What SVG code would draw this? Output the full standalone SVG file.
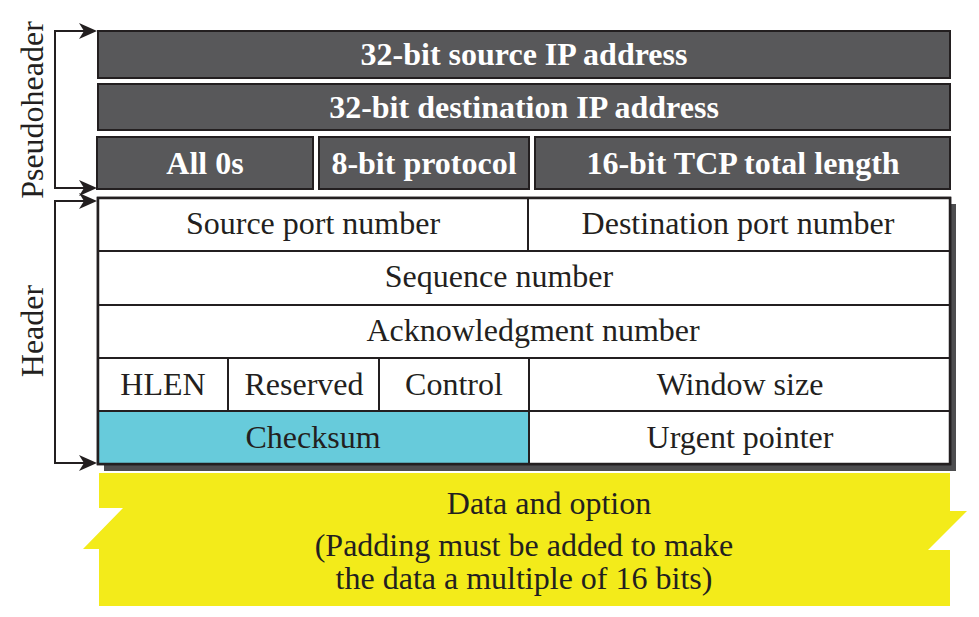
<svg xmlns="http://www.w3.org/2000/svg" width="979" height="617" viewBox="0 0 979 617">
<defs>
<style>
.dk{fill:#58585a;stroke:#231f20;stroke-width:2}
.wt{fill:#ffffff;stroke:#231f20;stroke-width:2}
.cy{fill:#67cbdb;stroke:#231f20;stroke-width:2}
.tb{font-weight:bold;font-size:32px;fill:#ffffff;text-anchor:middle}
.tn{font-size:32px;fill:#231f20;text-anchor:middle}
.ln{fill:none;stroke:#231f20;stroke-width:2}
</style>
<path id="ah" d="M0,0 L-18,-8 L-13,0 L-18,8 Z" fill="#231f20"/>
</defs>
<rect width="979" height="617" fill="#ffffff"/>
<g font-family="Liberation Serif, Times New Roman, serif">
<g id="pseudoheader">
<g id="src-ip"><rect class="dk" x="98" y="31" width="852" height="47"/><text class="tb" x="524" y="65">32-bit source IP address</text></g>
<g id="dst-ip"><rect class="dk" x="98" y="84" width="852" height="46"/><text class="tb" x="524" y="118">32-bit destination IP address</text></g>
<g id="all0"><rect class="dk" x="97" y="137" width="216" height="52"/><text class="tb" x="205" y="174">All 0s</text></g>
<g id="proto"><rect class="dk" x="319" y="137" width="210" height="52"/><text class="tb" x="424" y="174">8-bit protocol</text></g>
<g id="tcplen"><rect class="dk" x="535" y="137" width="415" height="52"/><text class="tb" x="743" y="174">16-bit TCP total length</text></g>
</g>

<g id="header">
<rect x="104" y="204" width="852" height="267" fill="#4d4d4f"/>
<rect x="98" y="198" width="852" height="266" fill="#ffffff" stroke="#231f20" stroke-width="2.5"/>
<g id="srcport"><rect class="wt" x="98" y="198" width="430" height="53"/><text class="tn" x="313" y="234">Source port number</text></g>
<g id="dstport"><rect class="wt" x="528" y="198" width="422" height="53"/><text class="tn" x="738" y="234">Destination port number</text></g>
<g id="seq"><rect class="wt" x="98" y="251" width="852" height="54"/><text class="tn" x="499" y="287">Sequence number</text></g>
<g id="ack"><rect class="wt" x="98" y="305" width="852" height="53"/><text class="tn" x="533" y="341">Acknowledgment number</text></g>
<g id="hlen"><rect class="wt" x="98" y="358" width="130" height="53"/><text class="tn" x="163" y="395">HLEN</text></g>
<g id="reserved"><rect class="wt" x="228" y="358" width="151" height="53"/><text class="tn" x="304" y="395">Reserved</text></g>
<g id="control"><rect class="wt" x="379" y="358" width="150" height="53"/><text class="tn" x="454" y="395">Control</text></g>
<g id="window"><rect class="wt" x="529" y="358" width="421" height="53"/><text class="tn" x="740" y="395">Window size</text></g>
<g id="checksum"><rect class="cy" x="98" y="411" width="431" height="53"/><text class="tn" x="313" y="448">Checksum</text></g>
<g id="urgent"><rect class="wt" x="529" y="411" width="421" height="53"/><text class="tn" x="740" y="448">Urgent pointer</text></g>
<rect x="98" y="198" width="852" height="266" fill="none" stroke="#231f20" stroke-width="2.5"/>
</g>

<g id="data">
<polygon points="99,473 950,473 950,511 967,511 928,550 950,550 950,606 99,606 99,549 83,549 123,508 99,508" fill="#f3eb1a"/>
<text class="tn" x="549" y="514">Data and option</text>
<text class="tn" x="524" y="556">(Padding must be added to make</text>
<text class="tn" x="524" y="589">the data a multiple of 16 bits)</text>
</g>

<g id="connectors">
<polyline class="ln" points="84,31 55,31 55,188 84,188"/>
<polyline class="ln" points="84,201 55,201 55,463 84,463"/>
<use href="#ah" x="97" y="31"/>
<use href="#ah" x="97" y="188"/>
<use href="#ah" x="97" y="201"/>
<use href="#ah" x="97" y="463"/>
</g>

<g id="labels">
<text class="tn" transform="translate(43,110) rotate(-90)">Pseudoheader</text>
<text class="tn" transform="translate(43,331) rotate(-90)">Header</text>
</g>
</g>
</svg>
